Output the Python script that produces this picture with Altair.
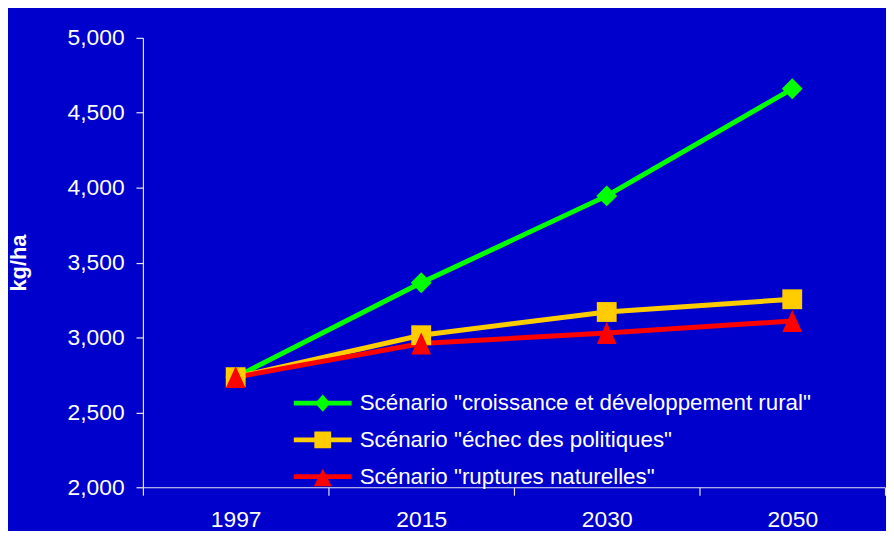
import altair as alt
import pandas as pd

# ---- data ----
years = ["1997", "2015", "2030", "2050"]
scenarios = [
    'Scénario "croissance et développement rural"',
    'Scénario "échec des politiques"',
    'Scénario "ruptures naturelles"',
]
croissance = [2735, 3365, 3945, 4660]
echec = [2735, 3015, 3170, 3255]
ruptures = [2735, 2960, 3030, 3110]
y_ticks = [2000, 2500, 3000, 3500, 4000, 4500, 5000]

colors = ["#00FF00", "#FFCC00", "#FF0000"]
plot_shapes = [
    "M0,-1L1,0L0,1L-1,0Z",
    "M-1,-1H1V1H-1Z",
    "M0,-1.05L0.95,1.05L-0.95,1.05Z",
]
legend_shapes = [
    "M-3.24,-0.27H3.24V0.27H-3.24Z M0,-0.97L0.85,0L0,0.97L-0.85,0Z",
    "M-3.24,-0.27H3.24V0.27H-3.24Z M-0.94,-0.94H0.94V0.94H-0.94Z",
    "M-3.24,-0.27H3.24V0.27H-3.24Z M0,-0.87L1,1.08L-1,1.08Z",
]

rows = []
for s, vals in zip(scenarios, [croissance, echec, ruptures]):
    for yr, v in zip(years, vals):
        rows.append({"year": yr, "scenario": s, "value": v})
df = pd.DataFrame(rows)

FONT = "Liberation Sans"
AXIS_COL = "#E4E4F4"


def make_legend():
    return alt.Legend(
        title=None,
        orient="none",
        legendX=170,
        legendY=357,
        padding=0,
        symbolSize=324,
        symbolStrokeWidth=0,
        symbolOpacity=1,
        labelOffset=26,
        labelFontSize=22.5,
        labelFont=FONT,
        labelColor="white",
        labelLimit=1000,
        rowPadding=14,
    )


x = alt.X(
    "year:N",
    sort=years,
    scale=alt.Scale(type="band", domain=years, paddingInner=0, paddingOuter=0),
    axis=alt.Axis(title=None, tickBand="extent", labelAngle=0, tickSize=8,
                  labelPadding=14, labelFontSize=23),
)
y = alt.Y(
    "value:Q",
    scale=alt.Scale(domain=[2000, 5000], nice=False, zero=False),
    axis=alt.Axis(values=y_ticks, format=",d", grid=False, title="kg/ha",
                  tickSize=7, labelPadding=12, labelFontSize=23,
                  titleFontSize=22, titleFontWeight="bold", titleAngle=270,
                  titleAlign="center", titleBaseline="middle",
                  titleX=-125, titleY=226.5),
)
color = alt.Color("scenario:N", scale=alt.Scale(domain=scenarios, range=colors),
                  legend=make_legend())

base = alt.Chart(df)

lines = base.mark_line(strokeWidth=5).encode(x=x, y=y, color=color)

legend_layer = (
    base.mark_point(filled=True, strokeWidth=0, size=324, opacity=0)
    .encode(
        x=x,
        y=y,
        color=color,
        shape=alt.Shape("scenario:N", scale=alt.Scale(domain=scenarios, range=legend_shapes),
                        legend=make_legend()),
    )
)

point_layers = []
for s, shp, sz in zip(scenarios, plot_shapes, [441, 400, 441]):
    point_layers.append(
        base.transform_filter(alt.datum.scenario == s)
        .mark_point(filled=True, opacity=1, strokeWidth=0, shape=shp, size=sz)
        .encode(x=x, y=y, color=color)
    )

chart = (
    alt.layer(lines, legend_layer, *point_layers)
    .properties(
        width=748,
        height=453,
        autosize=alt.AutoSizeParams(type="none"),
        padding={"left": 136, "top": 28, "right": 1, "bottom": 42},
        background="#0000CC",
    )
    .configure_view(stroke=None)
    .configure_axis(
        domainColor=AXIS_COL, tickColor=AXIS_COL, domainWidth=1.2, tickWidth=1.2,
        labelColor="white", titleColor="white", labelFont=FONT, titleFont=FONT,
    )
)

chart.save("out.html", embed_options={"renderer": "svg", "actions": False})
